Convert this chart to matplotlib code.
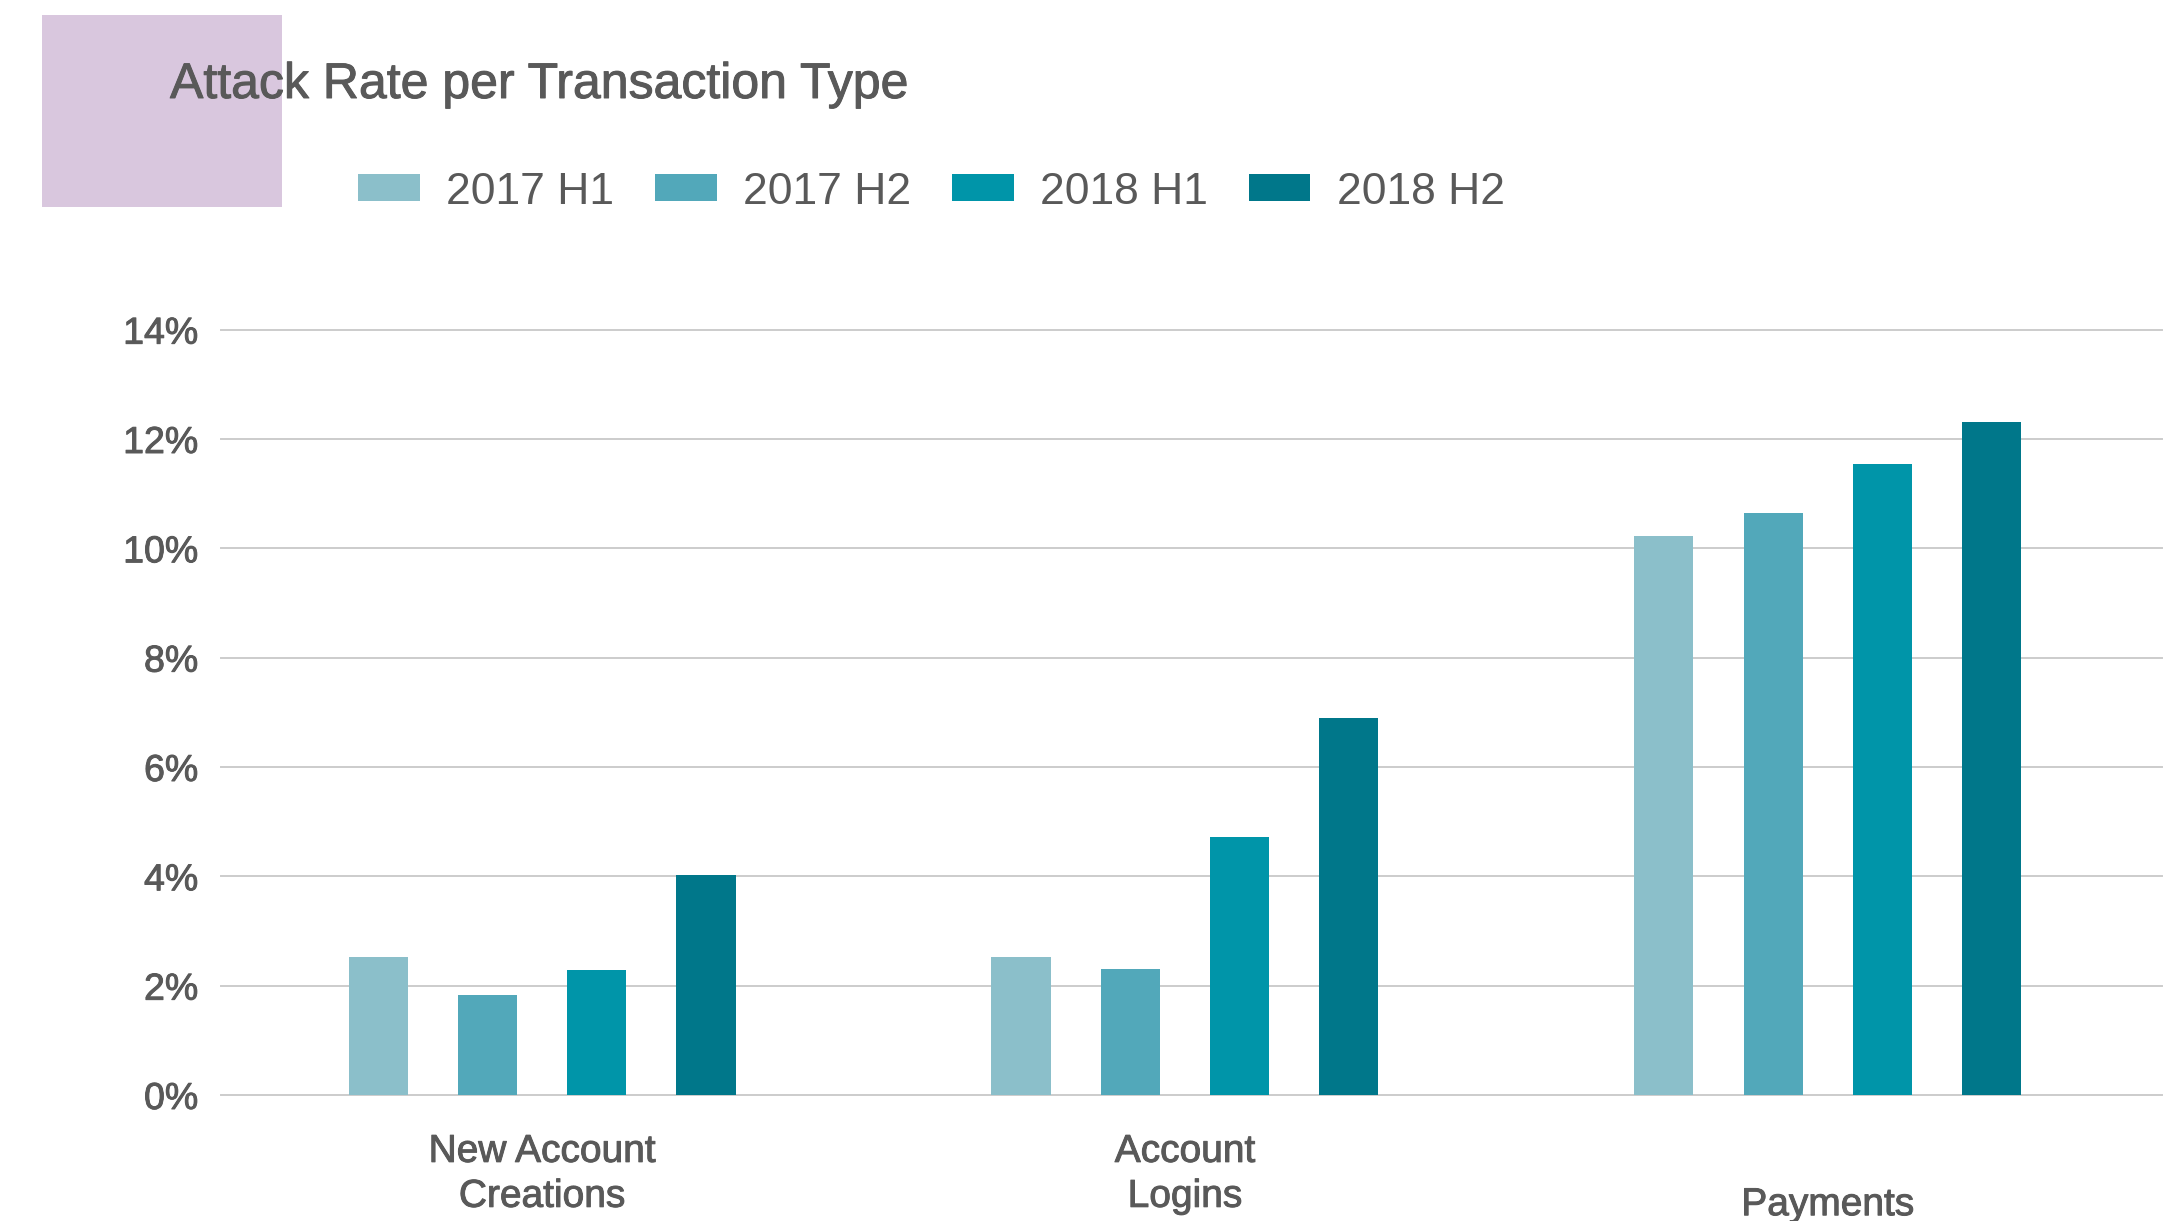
import matplotlib.pyplot as plt
import matplotlib.patches as mpatches
import matplotlib.patheffects as pe
import matplotlib.transforms as mtransforms
import numpy as np

plt.rcParams['font.family'] = ['Liberation Sans', 'DejaVu Sans']

# data
categories = ['New Account\nCreations', 'Account\nLogins', 'Payments']
series = ['2017 H1', '2017 H2', '2018 H1', '2018 H2']
rate_2017_h1 = [2.52, 2.52, 10.22]
rate_2017_h2 = [1.83, 2.30, 10.65]
rate_2018_h1 = [2.29, 4.72, 11.54]
rate_2018_h2 = [4.02, 6.90, 12.31]
y_ticks = [0, 2, 4, 6, 8, 10, 12, 14]

colors = ['#8BBFCA', '#52A8BA', '#0095A9', '#00778A']
text_color = '#595959'
medium = [pe.withStroke(linewidth=0.7, foreground=text_color)]

fig = plt.figure(figsize=(21.78, 12.21), dpi=100)

# purple block behind the title
fig.patches.append(mpatches.Rectangle((42 / 2178, 1 - 207 / 1221), 240 / 2178, 192 / 1221,
                                      transform=fig.transFigure, facecolor='#D9C7DE',
                                      edgecolor='none', zorder=0))

ax = fig.add_axes([0.1013, 0.1032, 0.8914, 0.6268])

x = np.arange(len(categories))
width = 0.092
step = 0.17
values = [rate_2017_h1, rate_2017_h2, rate_2018_h1, rate_2018_h2]
for i, (name, vals) in enumerate(zip(series, values)):
    ax.bar(x + (i - 1.5) * step, vals, width, color=colors[i], label=name, zorder=3)

ax.set_xlim(-0.5, 2.52)
ax.set_ylim(0, 14)
ax.set_yticks(y_ticks)
ax.set_yticklabels([f'{t}%' for t in y_ticks])
ax.set_xticks(x)
ax.set_xticklabels([c if '\n' in c else '\n' + c for c in categories], linespacing=1.32)

ax.tick_params(axis='y', length=0, pad=16, labelsize=27, labelcolor=text_color)
ax.tick_params(axis='x', length=0, pad=28, labelsize=28, labelcolor=text_color)
for lbl in ax.get_xticklabels() + ax.get_yticklabels():
    lbl.set_path_effects(medium)

# single-line label sits a little lower
pay = ax.get_xticklabels()[2]
pay.set_transform(pay.get_transform() +
                  mtransforms.ScaledTranslation(0, -6 / 72, fig.dpi_scale_trans))

for s in ax.spines.values():
    s.set_visible(False)
ax.grid(axis='y', color='#CCCCCC', linewidth=1.4, zorder=0)
ax.set_axisbelow(True)
for line in ax.get_ygridlines():
    line.set_clip_on(False)

fig.text(170 / 2178, 1 - 98 / 1221, 'Attack Rate per Transaction Type',
         fontsize=36, color=text_color, va='baseline', ha='left', path_effects=medium)

fig.legend(loc='center left', bbox_to_anchor=(358 / 2178, 1 - 192 / 1221),
           ncol=4, frameon=False, fontsize=32, labelcolor=text_color,
           handlelength=1.39, handleheight=0.55, handletextpad=0.59,
           columnspacing=0.92, borderpad=0, borderaxespad=0)

fig.savefig('out.png', dpi=100)
